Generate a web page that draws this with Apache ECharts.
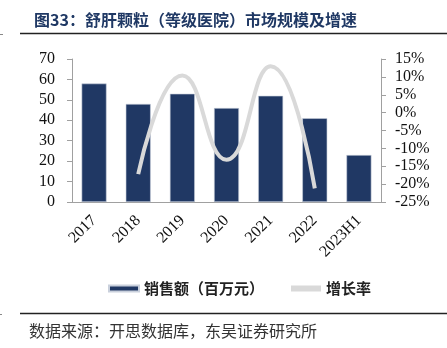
<!DOCTYPE html>
<html>
<head>
<meta charset="utf-8">
<script src="https://cdn.jsdelivr.net/npm/echarts@6/dist/echarts.min.js"></script>
<style>
html,body{margin:0;padding:0;background:#fff;}
#chart{width:447px;height:348px;}
</style>
</head>
<body>
<div id="chart"></div>
<script>
// 舒肝颗粒（等级医院）销售额与增长率
const categories = ['2017', '2018', '2019', '2020', '2021', '2022', '2023H1'];
const sales = [58, 48, 53, 46, 52, 41, 23];            // 百万元
const growth = [null, -17.2, 10.4, -13.2, 13.0, -21.2, null]; // %
const leftTicks = { min: 0, max: 70, interval: 10 };
const rightTicks = { min: -25, max: 15, interval: 5 };

const serif = '"Liberation Serif", "Times New Roman", serif';
const cjk = '"Noto Sans CJK SC", sans-serif';

const chart = echarts.init(document.getElementById('chart'));
chart.setOption({
  backgroundColor: '#fff',
  animation: false,
  title: {
    text: '图33：舒肝颗粒（等级医院）市场规模及增速',
    left: 29, top: 7,
    textStyle: { fontFamily: cjk, fontSize: 16, fontWeight: 'bold', color: '#1f3864' }
  },
  graphic: [
    { type: 'line', shape: { x1: 20, y1: 33.5, x2: 447, y2: 33.5 }, style: { stroke: '#222', lineWidth: 1.3 } },
    { type: 'line', shape: { x1: 0, y1: 34.5, x2: 3, y2: 34.5 }, style: { stroke: '#888', lineWidth: 1 } },
    { type: 'line', shape: { x1: 20, y1: 313.5, x2: 447, y2: 313.5 }, style: { stroke: '#222', lineWidth: 1.3 } },
    { type: 'line', shape: { x1: 0, y1: 314.5, x2: 2, y2: 314.5 }, style: { stroke: '#888', lineWidth: 1 } },
    { type: 'text', left: 29, top: 323,
      style: { text: '数据来源：开思数据库，东吴证券研究所', font: '16px "Noto Sans CJK SC", sans-serif', fill: '#333' } }
  ],
  legend: {
    top: 276, left: 103,
    itemWidth: 30, itemHeight: 6, itemGap: 27,
    textStyle: { fontFamily: cjk, fontSize: 15, fontWeight: 'bold', color: '#222' },
    data: [
      { name: '销售额（百万元）', icon: 'rect' },
      { name: '增长率', icon: 'rect', itemStyle: { color: '#d9d9d9' } }
    ]
  },
  grid: { left: 72, right: 66, top: 59, bottom: 146 },
  xAxis: {
    type: 'category',
    data: categories,
    axisLine: { lineStyle: { color: '#a0a0a0' } },
    axisTick: { show: false },
    axisLabel: { rotate: 45, fontFamily: serif, fontSize: 16, color: '#111', margin: 16 }
  },
  yAxis: [
    {
      type: 'value', min: leftTicks.min, max: leftTicks.max, interval: leftTicks.interval,
      splitLine: { show: false },
      axisLine: { show: true, lineStyle: { color: '#a0a0a0' } },
      axisTick: { show: true, length: 5, lineStyle: { color: '#a0a0a0' } },
      axisLabel: { fontFamily: serif, fontSize: 16, color: '#111', margin: 17 }
    },
    {
      type: 'value', min: rightTicks.min, max: rightTicks.max, interval: rightTicks.interval,
      splitLine: { show: false },
      axisLine: { show: true, lineStyle: { color: '#a0a0a0' } },
      axisTick: { show: true, length: 5, lineStyle: { color: '#a0a0a0' } },
      axisLabel: { fontFamily: serif, fontSize: 16, color: '#111', margin: 14, formatter: '{value}%' }
    }
  ],
  series: [
    {
      name: '销售额（百万元）', type: 'bar', data: sales, yAxisIndex: 0,
      barWidth: 25,
      itemStyle: { color: '#203864', borderColor: '#c9d0dc', borderWidth: 0.6 }
    },
    {
      name: '增长率', type: 'line', data: growth, yAxisIndex: 1,
      smooth: 0.5, showSymbol: false, connectNulls: false,
      lineStyle: { color: '#d9d9d9', width: 4 },
      itemStyle: { color: '#d9d9d9' }
    }
  ]
});
</script>
</body>
</html>
